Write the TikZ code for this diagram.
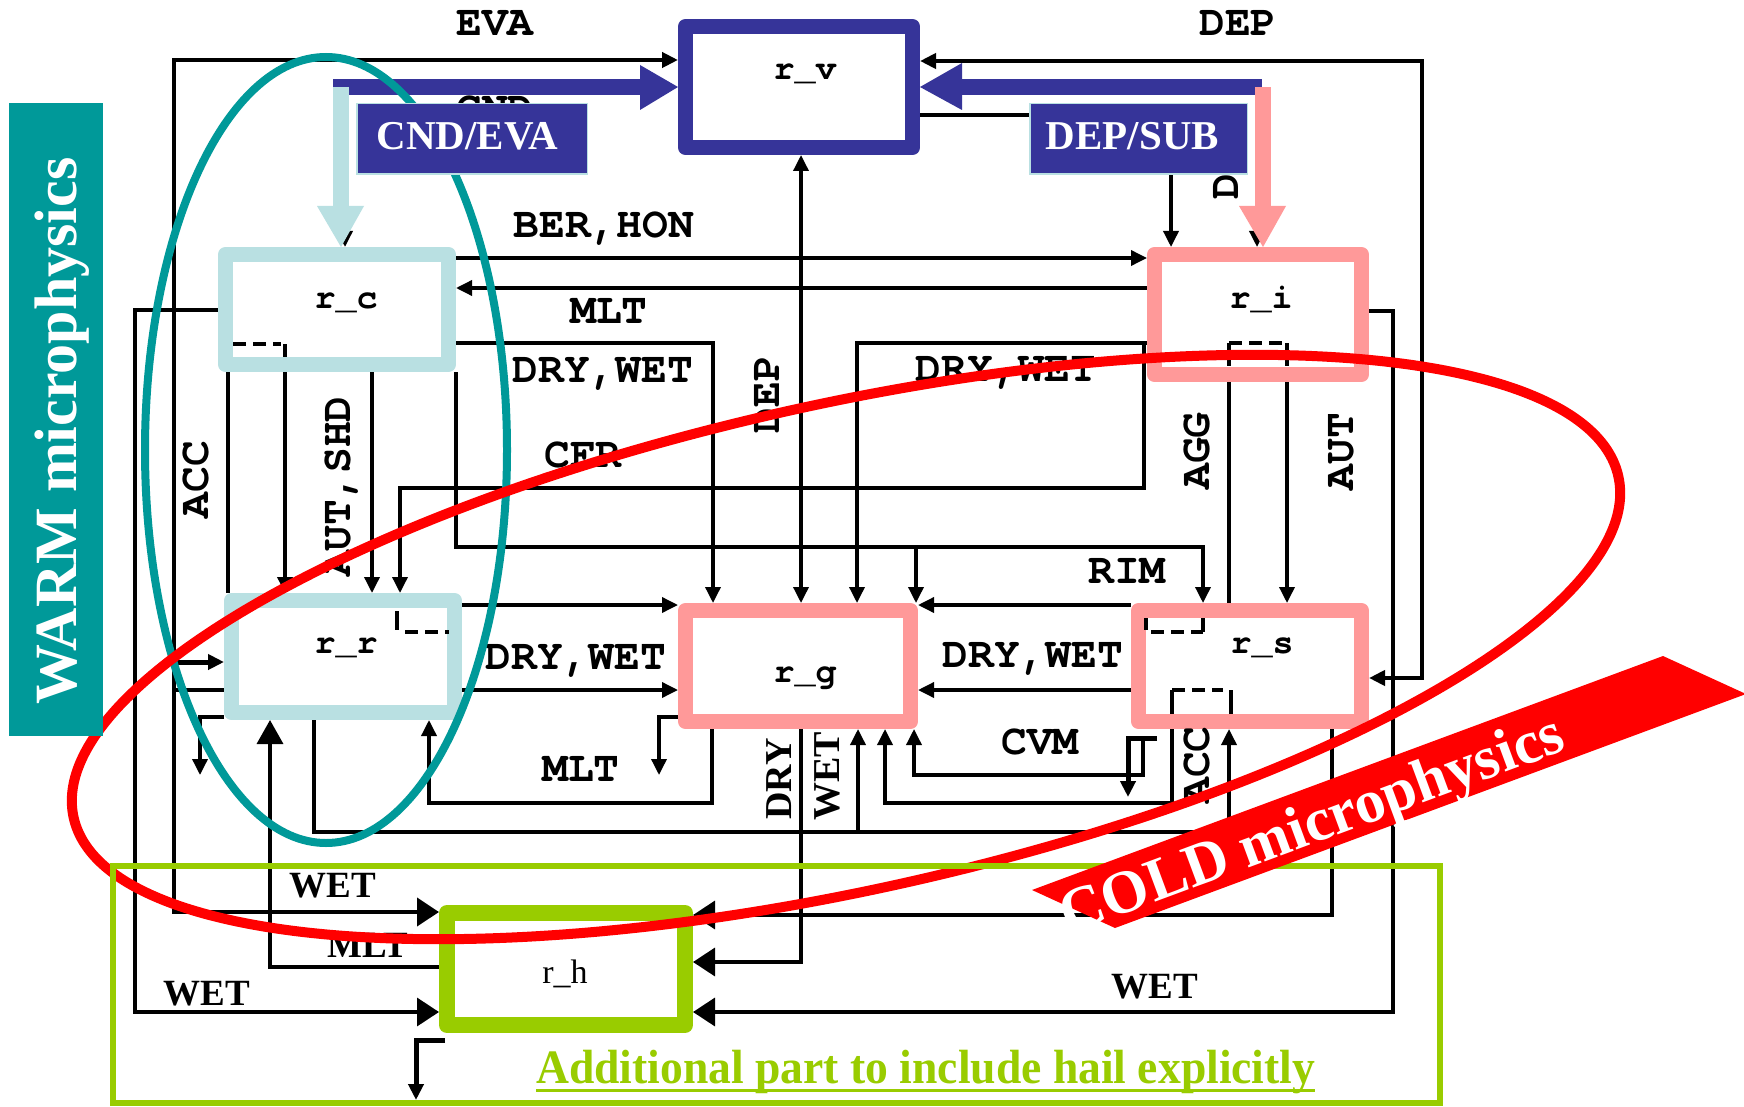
\documentclass[tikz,border=0pt]{standalone}
\usepackage{fontspec}
\setmainfont{Liberation Serif}
\newfontfamily\monof{TeX Gyre Cursor}
\usetikzlibrary{arrows.meta}
\definecolor{dblue}{RGB}{54,52,153}
\definecolor{lblue}{RGB}{185,224,226}
\definecolor{pinkc}{RGB}{255,153,153}
\definecolor{greenc}{RGB}{153,204,0}
\definecolor{tealc}{RGB}{0,153,153}
\definecolor{redc}{RGB}{255,0,0}
\pgfdeclarelayer{bgwhite}
\pgfdeclarelayer{lines}
\pgfsetlayers{bgwhite,lines,main}
\begin{document}
\begin{tikzpicture}[x=1pt,y=-1pt,
  ln/.style={line width=3.5pt},
  ar/.style={line width=3.5pt,-{Triangle[length=16pt,width=15pt]}},
  arb/.style={line width=3.5pt,-{Triangle[length=22pt,width=28pt]}},
  arrtwo/.style={line width=3.5pt,{Triangle[length=16pt,width=15pt]}-{Triangle[length=16pt,width=15pt]}},
  dsh/.style={line width=4pt,dash pattern=on 13pt off 7pt},
  bx/.style={draw=#1,line width=15pt,fill=white,line join=round,inner sep=0pt,outer sep=7.5pt},
  mono/.style={font=\monof\bfseries\fontsize{43pt}{48pt}\selectfont,inner sep=0pt,anchor=base},
  blab/.style={font=\monof\bfseries\fontsize{35pt}{40pt}\selectfont,inner sep=0pt,anchor=base},
  ser/.style={font=\bfseries\fontsize{37pt}{42pt}\selectfont,inner sep=0pt,anchor=base},
  lbox/.style={fill=dblue,draw=lblue,line width=1.5pt,inner sep=0pt},
  ltxt/.style={font=\bfseries\fontsize{41pt}{46pt}\selectfont,text=white,inner sep=0pt,anchor=base},
]
\useasboundingbox (0,0) rectangle (1744,1107);
\begin{pgfonlayer}{bgwhite}
\fill[white] (0,0) rectangle (1744,1107);
\end{pgfonlayer}

% ---------- boxes ----------
\node[bx=dblue, minimum width=227pt, minimum height=121pt] (rv) at (799,87) {};
\node[bx=lblue, minimum width=223pt, minimum height=110pt] (rc) at (337,309.5) {};
\node[bx=pinkc, minimum width=207pt, minimum height=120pt] (ri) at (1258,314.5) {};
\node[bx=lblue, minimum width=223pt, minimum height=112pt] (rr) at (343,656.5) {};
\node[bx=pinkc, minimum width=225pt, minimum height=111pt] (rg) at (798,666) {};
\node[bx=pinkc, minimum width=223pt, minimum height=111pt] (rs) at (1250,666) {};
\node[bx=greenc, line width=16pt, outer sep=8pt, minimum width=238pt, minimum height=112pt] (rh) at (566,969) {};

% ---------- connectors (under boxes) ----------
\begin{pgfonlayer}{lines}
\draw[line width=4pt,{Triangle[length=22pt,width=28pt]}-{Triangle[length=16pt,width=15pt]}]
  (rh.west |- 0,912) -- (174,912) -- (174,60) -- (rv.west |- 0,60);
\draw[line width=5pt,-{Triangle[length=16pt,width=15pt]}] (174,662) -- (rr.west |- 0,662);
\draw[ln] (rr.west |- 0,690) -- (174,690);
\draw[line width=4pt,{Triangle[length=16pt,width=15pt]}-{Triangle[length=16pt,width=15pt]}]
  (rv.east |- 0,61) -- (1422,61) -- (1422,678) -- (rs.east |- 0,678);
\draw[ar] (rv.east |- 0,115) -- (1171,115) -- (ri.north -| 1171,0);
\draw[ar] (345,176) -- (rc.north -| 345,0);
\draw[ar] (1257,176) -- (ri.north -| 1257,0);
\draw[arrtwo] (rv.south -| 801,0) -- (rg.north -| 801,0);
\draw[ar] (rc.east |- 0,258) -- (ri.west |- 0,258);
\draw[ar] (ri.west |- 0,288) -- (rc.east |- 0,288);
\draw[ar] (rc.east |- 0,343) -- (713,343) -- (rg.north -| 713,0);
\draw[ar] (rc.south east) -- (456,547) -- (1203,547) -- (rs.north -| 1203,0);
\draw[ar] (916,547) -- (rg.north -| 916,0);
\draw[ar] (ri.west |- 0,343) -- (857,343) -- (rg.north -| 857,0);
\draw[ar] (1144,343) -- (1144,488) -- (400,488) -- (rr.north -| 400,0);
\draw[ln] (ri.south -| 1229,0) -- (rs.north -| 1229,0);
\draw[ar] (ri.south -| 1287,0) -- (rs.north -| 1287,0);
\draw[ln] (rc.south -| 228,0) -- (rr.north -| 228,0);
\draw[ar] (rc.south -| 285,0) -- (rr.north -| 285,0);
\draw[ar] (rc.south -| 372,0) -- (rr.north -| 372,0);
\draw[ar] (rr.east |- 0,605) -- (rg.west |- 0,605);
\draw[ar] (rr.east |- 0,690) -- (rg.west |- 0,690);
\draw[ar] (rs.west |- 0,605) -- (rg.east |- 0,605);
\draw[ar] (rs.west |- 0,690) -- (rg.east |- 0,690);
\draw[ar] (rr.west |- 0,717) -- (200,717) -- (200,775);
\draw[line width=3.5pt,-{Triangle[length=24pt,width=26pt]}] (rh.west |- 0,967) -- (270,967) -- (rr.south -| 270,0);
\draw[ar] (rr.south -| 314,0) -- (314,832) -- (1229,832) -- (rs.south -| 1229,0);
\draw[ar] (858,832) -- (rg.south -| 858,0);
\draw[ar] (rg.south -| 712,0) -- (712,803) -- (429,803) -- (rr.south -| 429,0);
\draw[ar] (rg.west |- 0,717) -- (659,717) -- (659,775);
\draw[ar] (rs.south -| 1172,0) -- (1172,803) -- (885,803) -- (rg.south -| 885,0);
\draw[ar] (1143,738) -- (1143,775) -- (914,775) -- (rg.south -| 914,0);
\draw[line width=5pt,-{Triangle[length=16pt,width=15pt]}] (1157,738) -- (1128,738) -- (1128,797);
\draw[arb] (rg.south -| 801,0) -- (801,962) -- (rh.east |- 0,962);
\draw[arb] (rs.south -| 1332,0) -- (1332,915) -- (rh.east |- 0,915);
\draw[arb] (ri.east |- 0,311) -- (1393,311) -- (1393,1012) -- (rh.east |- 0,1012);
\draw[arb] (rc.west |- 0,310) -- (135,310) -- (135,1012) -- (rh.west |- 0,1012);
\draw[line width=5pt,-{Triangle[length=16pt,width=15pt]}] (445,1040) -- (416,1040) -- (416,1100);
\end{pgfonlayer}

% ---------- dashed bits inside boxes ----------
\draw[dsh] (233,344) -- (281,344);
\draw[ln] (285,344) -- (285,357);
\draw[ln] (397,611) -- (397,630);
\draw[dsh] (405,632) -- (449,632);
\draw[dsh] (1229,343) -- (1287,343);
\draw[ln] (1229,343) -- (1229,366);
\draw[ln] (1287,343) -- (1287,366);
\draw[ln] (1146,618) -- (1146,630);
\draw[dsh] (1151,632) -- (1203,632);
\draw[ln] (1203,618) -- (1203,632);
\draw[dsh] (1172,690) -- (1223,690);
\draw[ln] (1172,690) -- (1172,714);
\draw[ln] (1231,690) -- (1231,714);

% ---------- box labels ----------
\node[blab] (trv) at (805,80) {r\_v};
\node[blab] (trc) at (346,308) {r\_c};
\node[blab] (tri) at (1261,308) {r\_i};
\node[blab] (trr) at (346,653) {r\_r};
\node[blab] (trg) at (805,682) {r\_g};
\node[blab] (trs) at (1262,653) {r\_s};
\node[font=\fontsize{34pt}{38pt}\selectfont,inner sep=0pt,anchor=base] (trh) at (565,983) {r\_h};

% ---------- process labels ----------
\node[mono] (lEVA) at (495,36) {EVA};
\node[mono] (lDEP) at (1238,36) {DEP};
\node[mono] (lCND) at (495,122) {CND};
\node[mono,rotate=90,anchor=base west] (lDEPh) at (1238,200) {DEP};
\node[mono] (lBER) at (604,237) {BER,HON};
\node[mono] (lMLTa) at (609,323) {MLT};
\node[mono] (lDWa) at (603,382) {DRY,WET};
\node[mono] (lDWb) at (1006,381) {DRY,WET};
\node[mono] (lCFR) at (583,467) {CFR};
\node[mono] (lRIM) at (1127,583) {RIM};
\node[mono] (lDWc) at (576,669) {DRY,WET};
\node[mono] (lDWd) at (1033,667) {DRY,WET};
\node[mono] (lMLTb) at (581,781) {MLT};
\node[mono] (lCVM) at (1040,754) {CVM};
\node[mono,rotate=90] (lDEPv) at (779,394.5) {DEP};
\node[mono,rotate=90] (lAUTS) at (350,486.5) {AUT,SHD};
\node[mono,rotate=90] (lACCa) at (208,479.5) {ACC};
\node[mono,rotate=90] (lAGG) at (1209,451) {AGG};
\node[mono,rotate=90] (lAUT) at (1353,451.5) {AUT};
\node[mono,rotate=90] (lACCb) at (1209,765) {ACC};
\node[ser,font=\bfseries\fontsize{38pt}{42pt}\selectfont,rotate=90] (lDRY) at (791,779) {DRY};
\node[ser,font=\bfseries\fontsize{38pt}{42pt}\selectfont,rotate=90] (lWETv) at (839,776.5) {WET};
\node[ser] (lWETa) at (333,897) {WET};
\node[ser] (lMLTc) at (368,957) {MLT};
\node[ser] (lWETb) at (207,1005) {WET};
\node[ser] (lWETc) at (1155,998) {WET};

% ---------- big coloured arrows ----------
\fill[dblue] (333,79) rectangle (641,95);
\fill[dblue] (640,65) -- (rv.west |- 0,87) -- (640,110) -- cycle;
\fill[lblue] (333,87) rectangle (349,207);
\fill[lblue] (317,206) -- (364,206) -- (rc.north -| 341,0) -- cycle;
\fill[dblue] (961,79) rectangle (1262,95);
\fill[dblue] (962,63) -- (rv.east |- 0,87) -- (962,110) -- cycle;
\fill[pinkc] (1255,87) rectangle (1271,207);
\fill[pinkc] (1239,206) -- (1286,206) -- (ri.north -| 1263,0) -- cycle;

% ---------- warm ellipse ----------
\draw[tealc, line width=8pt] (326,450) ellipse [x radius=181pt, y radius=393pt];

% ---------- label boxes ----------
\node[lbox, minimum width=230.5pt, minimum height=70.5pt] (bcnd) at (472,139) {};
\node[ltxt] (tcnd) at (467.5,150) {CND/EVA};
\node[lbox, minimum width=217.5pt, minimum height=70.5pt] (bdep) at (1138.5,139) {};
\node[ltxt] (tdep) at (1132.5,150) {DEP/SUB};

% ---------- cold ellipse ----------
\draw[redc, line width=10pt, rotate around={12.45:(846,647)}] (846,647) ellipse [x radius=791pt, y radius=243pt];

% ---------- hail frame ----------
\draw[greenc, line width=6pt] (113,866) rectangle (1440,1103);
\node[font=\bfseries\fontsize{48pt}{52pt}\selectfont, text=greenc, anchor=base west, inner sep=0pt, xscale=0.95] (addt) at (536,1083) {Additional part to include hail explicitly};
\draw[greenc, line width=3pt] (536,1090) -- (1315,1090);

% ---------- banners ----------
\fill[redc] (1032,890) -- (1663,656) -- (1746,694) -- (1115,928) -- cycle;
\node[font=\bfseries\fontsize{61pt}{66pt}\selectfont, text=white, rotate=20.35, anchor=base, inner sep=0pt] (cold) at (1318,842) {COLD microphysics};
\fill[tealc] (9,103) rectangle (103,736);
\node[font=\bfseries\fontsize{60pt}{66pt}\selectfont, text=white, rotate=90, anchor=base, inner sep=0pt] (warm) at (76,431) {WARM microphysics};
\end{tikzpicture}
\end{document}
